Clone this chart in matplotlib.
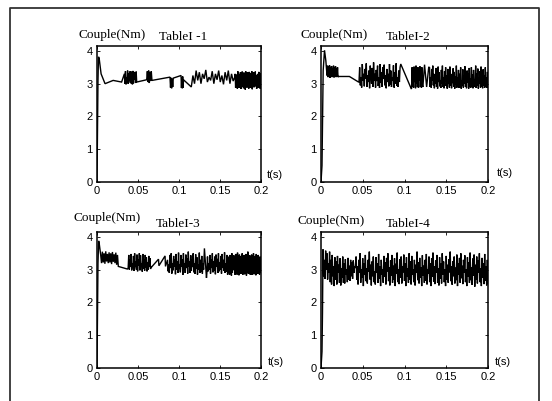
import numpy as np
import matplotlib
matplotlib.use("Agg")
import matplotlib.pyplot as plt
from matplotlib.lines import Line2D

# ---------------------------------------------------------------- labels
titles = ["TableI -1", "TableI-2", "TableI-3", "TableI-4"]
y_label_text = "Couple(Nm)"
x_label_text = "t(s)"
x_ticks = [0, 0.05, 0.1, 0.15, 0.2]
x_tick_labels = ["0", "0.05", "0.1", "0.15", "0.2"]
y_ticks = [0, 1, 2, 3, 4]
y_tick_labels = ["0", "1", "2", "3", "4"]

# ---------------------------------------------------------------- torque data
# Sparse stretches are (time, torque) pairs; bursts are (t_start, t_end) plus
# the torque samples recorded evenly inside that window.

# TableI-1
tab1_start_t = [0.0, 0.0006, 0.0012, 0.0018, 0.0026, 0.005, 0.0098, 0.0197, 0.030, 0.0334]
tab1_start_q = [0.0, 1.7, 3.1, 3.82, 3.78, 3.3, 3.0, 3.1, 3.05, 3.3]
tab1_burst_a = [3.3, 3.0, 3.38, 2.98, 3.2, 3.02, 3.4, 3.0, 3.32, 3.1, 3.37, 3.03,
                3.38, 3.0, 3.25, 2.98, 3.39, 3.01, 3.36, 3.12, 3.3, 3.02, 3.37, 3.05]
tab1_burst_b = [3.12, 3.38, 3.05, 3.4, 3.02, 3.35, 3.08, 3.38, 3.1]
tab1_burst_c = [3.2, 2.88, 3.18, 2.86, 3.15, 2.9, 3.17]
tab1_burst_d = [3.25, 2.87, 3.2, 2.86, 3.22, 2.88, 3.12]
tab1_burst_e = [2.9, 3.25, 3.0, 3.4, 3.1, 3.35, 3.0, 3.3, 3.15, 3.42, 3.05, 3.2,
                3.1, 3.38, 3.0, 3.3, 3.12, 3.4, 3.05, 3.25, 2.98, 3.35, 3.1, 3.4,
                3.0, 3.3, 3.08, 3.2]
tab1_burst_f = [3.3, 2.88, 3.15, 2.95, 3.28, 2.85, 3.38, 3.05, 3.3, 2.87, 3.2, 2.98,
                3.35, 2.84, 3.1, 2.9, 3.37, 3.0, 3.27, 2.86, 3.34, 3.05, 3.31, 2.82,
                3.38, 2.96, 3.15, 2.88, 3.35, 2.91, 3.22, 2.85, 3.36, 3.02, 3.28, 2.87,
                3.33, 2.9, 3.38, 2.83, 3.18, 2.95, 3.35, 2.89, 3.31, 3.0, 3.37, 2.92,
                3.27, 2.84, 3.12, 2.97, 3.3, 2.88, 3.36, 2.91, 3.26, 2.85, 3.32, 2.9]

# TableI-2
tab2_start_t = [0.0, 0.0012, 0.0018, 0.0026, 0.0042, 0.0058, 0.0072]
tab2_start_q = [0.0, 0.5, 1.7, 3.4, 4.02, 3.7, 3.25]
tab2_burst_a = [3.25, 3.55, 3.2, 3.52, 3.22, 3.56, 3.18, 3.5, 3.24, 3.54, 3.2, 3.48,
                3.22, 3.55, 3.19, 3.5, 3.23, 3.53, 3.2, 3.46, 3.21, 3.5, 3.2, 3.22]
tab2_flat_t = [0.022, 0.034, 0.045]
tab2_flat_q = [3.22, 3.22, 3.05]
tab2_burst_b = [3.05, 3.5, 2.95, 3.2, 2.88, 3.6, 3.1, 3.3, 2.92, 3.45, 3.15, 3.62,
                2.9, 3.25, 3.05, 3.4, 2.86, 3.55, 3.2, 3.0, 3.48, 2.9, 3.65, 3.1,
                3.3, 2.88, 3.42, 3.08, 3.55, 2.93, 3.2, 2.87, 3.6, 3.02, 3.35, 2.9,
                3.5, 3.15, 3.58, 2.95, 3.25, 2.86, 3.45, 3.05, 3.3, 2.92, 3.6, 2.98,
                3.4, 2.9, 3.18, 3.1, 3.56, 2.88, 3.35, 3.0, 3.62, 2.94, 3.2, 2.9,
                3.4, 3.05, 3.5, 3.6]
tab2_drop_t = [0.108]
tab2_drop_q = [2.85]
tab2_burst_c = [2.85, 3.5, 2.9, 3.2, 2.88, 3.52, 3.05, 3.4, 2.86, 3.55, 3.0, 3.3,
                2.9, 3.5, 2.87, 3.42, 3.1, 3.53, 2.9, 3.25, 2.88, 3.5, 2.95, 2.9]
tab2_zig_t = [0.124, 0.1265, 0.129]
tab2_zig_q = [3.58, 2.9, 3.5]
tab2_burst_d = [3.5, 2.9, 3.2, 2.88, 3.45, 3.1, 3.55, 2.95, 3.3, 2.86,
                3.15, 3.0, 3.48, 2.9, 3.25, 2.85, 3.52, 3.05, 3.35, 2.92,
                3.1, 2.87, 3.42, 3.0, 3.55, 2.9, 3.2, 2.86, 3.38, 3.08,
                3.5, 2.93, 3.25, 2.85, 3.45, 3.0, 3.15, 2.88, 3.52, 2.95,
                3.3, 2.86, 3.12, 3.02, 3.47, 2.9, 3.36, 2.85, 3.22, 2.97,
                3.55, 2.88, 3.18, 3.05, 3.42, 2.87, 3.3, 2.92, 3.5, 2.85,
                3.1, 2.95, 3.44, 2.88, 3.26, 3.0, 3.53, 2.9, 3.2, 2.86,
                3.4, 3.04, 3.32, 2.85, 3.48, 2.92, 3.15, 2.88, 3.5, 2.97,
                3.28, 2.86, 3.42, 3.02, 3.12, 2.9, 3.55, 2.87, 3.3, 2.95,
                3.46, 2.85, 3.2, 3.0, 3.38, 2.88, 3.52, 2.92, 3.1, 2.86,
                3.44, 2.95, 3.25, 2.88, 3.5, 2.9, 3.18, 2.87, 3.36, 3.0]

# TableI-3
tab3_start_t = [0.0, 0.0006, 0.0012, 0.002, 0.0028, 0.0045]
tab3_start_q = [0.0, 1.7, 3.2, 3.88, 3.78, 3.45]
tab3_burst_a = [3.45, 3.2, 3.55, 3.22, 3.5, 3.18, 3.56, 3.25, 3.48, 3.2, 3.53,
                3.22, 3.5, 3.17, 3.54, 3.24, 3.47, 3.2, 3.52, 3.15, 3.45, 3.1]
tab3_slope_t = [0.037]
tab3_slope_q = [3.02]
tab3_burst_b = [3.05, 3.45, 3.0, 3.3, 3.1, 3.48, 2.98, 3.2, 3.05, 3.42, 2.96, 3.5,
                3.08, 3.25, 3.0, 3.46, 2.95, 3.3, 3.12, 3.5, 2.98, 3.44, 3.1, 3.2,
                2.94, 3.48, 3.02, 3.3, 2.97, 3.45, 3.06, 3.38, 2.95, 3.22, 3.0, 3.42,
                3.08, 3.35, 3.02, 3.1]
tab3_saw_t = [0.0665, 0.075, 0.0755, 0.083, 0.0835]
tab3_saw_q = [3.08, 3.32, 3.12, 3.42, 3.1]
tab3_burst_c = [3.3, 2.95, 3.15, 2.9, 3.45, 3.05, 3.5, 2.88, 3.2, 2.98, 3.42, 3.1,
                3.3, 2.86, 3.48, 3.0, 3.25, 2.9, 3.52, 3.02, 3.15, 2.92, 3.45, 3.1,
                3.32, 2.84, 3.5, 3.0, 3.2, 2.9, 3.46, 3.05, 3.35, 2.88, 3.55, 3.1,
                3.25, 2.9, 3.44, 2.96, 3.3, 3.08, 3.5, 2.92, 3.2, 2.87, 3.47, 3.02,
                3.38, 2.85, 3.15, 3.0, 3.52, 2.9, 3.3, 2.94, 3.42, 2.88, 3.2, 3.0]
tab3_spike_t = [0.131, 0.1335]
tab3_spike_q = [3.65, 2.75]
tab3_burst_d = [2.9, 3.4, 2.95, 3.2, 3.0, 3.45, 2.88, 3.3, 3.05, 3.5, 2.92, 3.25,
                2.98, 3.4, 2.86, 3.46, 3.1, 3.33, 2.9, 3.5, 2.95, 3.22, 3.0, 3.42,
                2.88, 3.48, 3.05, 3.3, 2.96, 3.53, 2.9, 3.2, 2.94, 3.45, 2.85, 3.3]
tab3_burst_e = [2.9, 3.4, 2.85, 3.45, 2.95, 3.2, 2.82, 3.5, 2.9, 3.38, 3.05, 3.44,
                2.98, 3.32, 2.84, 3.48, 2.92, 3.25, 2.85, 3.52, 2.95, 3.36, 2.83, 3.46,
                3.0, 3.3, 2.87, 3.42, 2.96, 3.5, 2.84, 3.2, 2.9, 3.45, 2.86, 3.34,
                2.93, 3.48, 2.82, 3.4, 3.02, 3.55, 2.88, 3.36, 2.95, 3.44, 2.85, 3.3,
                2.9, 3.46, 2.84, 3.22, 2.92, 3.5, 2.86, 3.35, 2.97, 3.42, 2.83, 3.48,
                2.9, 3.38, 2.87, 3.45, 2.94, 3.32, 2.85, 3.4, 2.9, 3.3]

# TableI-4
tab4_start_t = [0.0, 0.0012, 0.0018, 0.0024]
tab4_start_q = [0.0, 0.5, 1.7, 3.55]
tab4_burst_a = [3.62, 2.8, 3.3, 2.72, 3.58, 3.0, 3.5, 2.7, 3.2, 2.9, 3.55, 2.62,
                3.3, 2.55, 3.45, 2.8, 3.1, 2.5, 3.38, 2.7, 3.25, 2.55, 3.42, 2.9,
                3.15, 2.6, 3.35, 2.52, 3.05, 2.75, 3.4, 2.6, 3.2, 2.58, 3.32, 2.85,
                3.0, 2.62, 3.36, 2.7, 3.12, 2.66, 3.3, 2.8, 3.22, 2.72, 3.28, 2.9,
                3.1, 3.05]
tab4_burst_b = [3.4, 2.7, 3.1, 2.55, 3.3, 2.9, 3.5, 2.6, 3.0, 2.75,
                3.35, 2.5, 3.2, 2.85, 3.45, 2.65, 3.05, 2.58, 3.3, 2.95,
                3.55, 2.7, 3.15, 2.52, 3.25, 2.8, 3.4, 2.62, 2.95, 2.55,
                3.38, 2.9, 3.2, 2.6, 3.48, 2.72, 3.1, 2.5, 3.3, 2.85,
                3.0, 2.6, 3.42, 2.78, 3.22, 2.55, 3.36, 2.95, 3.5, 2.65,
                3.08, 2.52, 3.28, 2.82, 3.45, 2.6, 3.12, 2.7, 3.35, 2.5,
                3.18, 2.88, 3.52, 2.62, 3.02, 2.56, 3.32, 2.76, 3.4, 2.58,
                3.1, 2.92, 3.46, 2.66, 3.2, 2.5, 3.38, 2.8, 3.05, 2.6,
                3.5, 2.7, 3.25, 2.55, 3.42, 2.85, 3.0, 2.62, 3.3, 2.52,
                3.15, 2.9, 3.55, 2.68, 3.22, 2.58, 3.36, 2.75, 3.08, 2.5,
                3.44, 2.82, 3.12, 2.6, 3.3, 2.66, 3.48, 2.55, 3.02, 2.88,
                3.4, 2.62, 3.2, 2.5, 3.35, 2.78, 3.52, 2.64, 3.1, 2.56,
                3.28, 2.9, 3.45, 2.6, 3.05, 2.52, 3.38, 2.72, 3.18, 2.58,
                3.5, 2.84, 3.25, 2.62, 3.0, 2.5, 3.42, 2.7, 3.15, 2.6,
                3.32, 2.92, 3.55, 2.65, 3.1, 2.54, 3.26, 2.8, 3.4, 2.58,
                3.06, 2.68, 3.46, 2.5, 3.2, 2.86, 3.36, 2.6, 3.5, 2.74,
                3.12, 2.56, 3.3, 2.9, 3.44, 2.62, 3.0, 2.5, 3.38, 2.78,
                3.22, 2.6, 3.52, 2.68, 3.08, 2.54, 3.34, 2.82, 3.46, 2.48,
                3.15, 2.7, 3.4, 2.58, 3.28, 2.92, 3.5, 2.62, 3.05, 2.5,
                3.36, 2.76, 3.2, 2.56, 3.48, 2.66, 3.1, 2.52, 3.3, 2.6]

# piece lists: ("pts", times, torques) or ("burst", (t_start, t_end), torques)
tab1_pieces = [("pts", tab1_start_t, tab1_start_q),
               ("burst", (0.0334, 0.0484), tab1_burst_a),
               ("burst", (0.0606, 0.067), tab1_burst_b),
               ("burst", (0.089, 0.093), tab1_burst_c),
               ("burst", (0.1025, 0.1055), tab1_burst_d),
               ("burst", (0.115, 0.168), tab1_burst_e),
               ("burst", (0.1685, 0.2), tab1_burst_f)]
tab2_pieces = [("pts", tab2_start_t, tab2_start_q),
               ("burst", (0.0072, 0.021), tab2_burst_a),
               ("pts", tab2_flat_t, tab2_flat_q),
               ("burst", (0.0455, 0.0955), tab2_burst_b),
               ("pts", tab2_drop_t, tab2_drop_q),
               ("burst", (0.1085, 0.122), tab2_burst_c),
               ("pts", tab2_zig_t, tab2_zig_q),
               ("burst", (0.13, 0.2), tab2_burst_d)]
tab3_pieces = [("pts", tab3_start_t, tab3_start_q),
               ("burst", (0.0045, 0.026), tab3_burst_a),
               ("pts", tab3_slope_t, tab3_slope_q),
               ("burst", (0.038, 0.066), tab3_burst_b),
               ("pts", tab3_saw_t, tab3_saw_q),
               ("burst", (0.086, 0.13), tab3_burst_c),
               ("pts", tab3_spike_t, tab3_spike_q),
               ("burst", (0.134, 0.16), tab3_burst_d),
               ("burst", (0.1605, 0.2), tab3_burst_e)]
tab4_pieces = [("pts", tab4_start_t, tab4_start_q),
               ("burst", (0.0024, 0.041), tab4_burst_a),
               ("burst", (0.042, 0.2), tab4_burst_b)]
all_pieces = [tab1_pieces, tab2_pieces, tab3_pieces, tab4_pieces]


def assemble(pieces):
    ts, qs = [], []
    for kind, when, vals in pieces:
        if kind == "pts":
            ts.extend(when)
        else:
            ts.extend(np.linspace(when[0], when[1], len(vals)))
        qs.extend(vals)
    return np.array(ts), np.array(qs)


# ---------------------------------------------------------------- figure
W, H = 552, 401
fig = plt.figure(figsize=(W / 100, H / 100), dpi=100)
fig.patch.set_facecolor("white")

serif = ["Liberation Serif", "DejaVu Serif"]
sans = ["Liberation Sans", "DejaVu Sans"]


def px(x, y):
    return x / W, 1 - y / H


# axes boxes in pixels: left, top, right, bottom
boxes = [(97, 46, 261, 182), (321, 46, 488, 182),
         (97, 232, 261, 368), (321, 232, 488, 368)]
ylab_pos = [(112, 35), (334, 35), (107, 218), (331, 221)]
title_pos = [(183, 37), (408, 37), (178, 224), (408, 224)]
tlab_pos = [(275, 175), (505, 173), (276, 362), (503, 362)]

for i, (l, t, r, b) in enumerate(boxes):
    ax = fig.add_axes([l / W, 1 - b / H, (r - l) / W, (b - t) / H])
    tt, qq = assemble(all_pieces[i])
    ax.plot(tt, qq, color="black", lw=1.0, solid_joinstyle="miter")
    ax.set_xlim(0, 0.2)
    ax.set_ylim(0, 4.15)
    ax.set_xticks(x_ticks)
    ax.set_xticklabels(x_tick_labels, fontfamily=sans, fontsize=8)
    ax.set_yticks(y_ticks)
    ax.set_yticklabels(y_tick_labels, fontfamily=sans, fontsize=8)
    ax.tick_params(direction="in", length=2.5, width=0.6, top=True, right=True,
                   pad=3, colors="black")
    for s in ax.spines.values():
        s.set_linewidth(1.1)
        s.set_color("black")

    fig.text(*px(*ylab_pos[i]), y_label_text, family=serif, fontsize=9.5,
             ha="center", va="center")
    fig.text(*px(*title_pos[i]), titles[i], family=serif, fontsize=9.5,
             ha="center", va="center")
    fig.text(*px(*tlab_pos[i]), x_label_text, family=sans, fontsize=8,
             ha="center", va="center")

# outer frame (left, top and right edges)
frame_x = [10 / W, 10 / W, 539 / W, 539 / W]
frame_y = [0.0, 1 - 8 / H, 1 - 8 / H, 0.0]
fig.add_artist(Line2D(frame_x, frame_y, transform=fig.transFigure,
                      color="#333333", lw=1.3))

fig.savefig("out.png", dpi=100)
